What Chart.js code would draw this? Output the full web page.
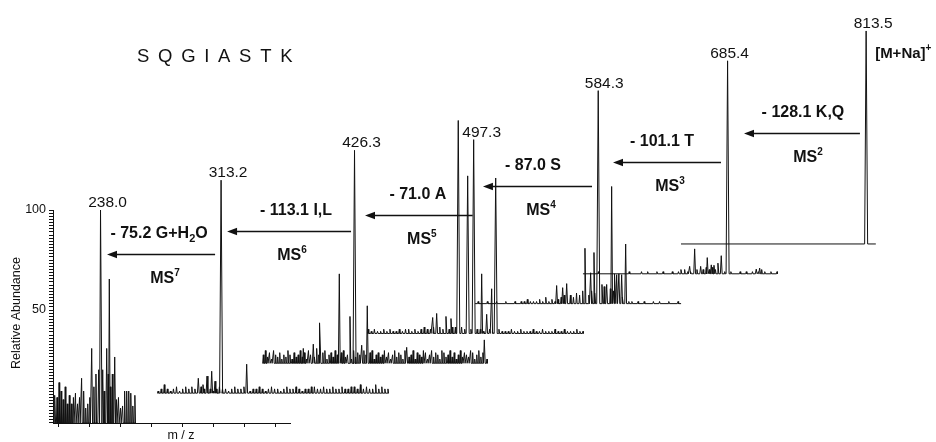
<!DOCTYPE html>
<html>
<head>
<meta charset="utf-8">
<script src="https://cdn.jsdelivr.net/npm/chart.js@4.4.1/dist/chart.umd.min.js"></script>
<style>
  html, body { margin: 0; padding: 0; background: #fff; }
  #wrap { width: 936px; height: 442px; }
</style>
</head>
<body>
<div id="wrap"><canvas id="msChart" width="936" height="442"></canvas></div>
<script>
// ===================================
// MSn ladder of SQGIASTK, one staggered spectrum per stage
// ===================================

const peptide = 'SQGIASTK';

// base peak of every spectrum, front (MS7) to back (full scan)
const basePeakMz = [238.0, 313.2, 426.3, 497.3, 584.3, 685.4, 813.5];
const basePeakPct = [100, 100, 100, 91, 100, 100, 100];
const scanRanges = [[104, 339], [128, 804], [158, 816], [187, 819], [222, 828], [260, 831], [269, 842]];

// fragmentation steps (product spectrum i comes from base peak i+1)
const msOrder = [7, 6, 5, 4, 3, 2];
const neutralLoss = ['- 75.2 G+H₂O', '- 113.1 I,L', '- 71.0 A', '- 87.0 S', '- 101.1 T', '- 128.1 K,Q'];
const yTickLabels = [50, 100];

// other peaks [m/z, %]
const peaksMS7 = [[212, 35], [232.6, 25], [244.4, 25], [256.2, 35], [263.8, 67.6], [279.7, 31]];
const peaksMS6 = [[246.2, 7], [260, 4], [271.8, 8], [285.6, 10.3], [295.3, 5.6], [388.5, 13.6]];
const peaksMS5 = [[275.6, 7], [305, 9], [324.7, 19], [381.5, 42], [412.9, 22], [447.4, 8.5], [463.8, 27], [579.7, 7.5], [808, 11]];
const peaksMS4 = [[376.8, 7.5], [388.5, 9.4], [415.9, 8], [430.6, 7], [452, 100], [479.7, 74], [520.9, 28], [535.6, 9], [550.3, 21], [562.1, 73]];
const peaksMS3 = [[462, 8.5], [479.7, 7.5], [491.5, 9.4], [545.3, 26], [562, 14.5], [571.8, 24], [595.3, 9], [609.1, 9], [623.8, 55], [633.5, 14], [638.5, 13.6], [645, 14], [653.2, 13.6], [665, 28]];
const peaksMS2 = [[548.2, 2], [573.8, 3.5], [588.5, 11.7], [606.2, 3.5], [625.6, 7.6], [637.4, 4.2], [645.3, 4], [657, 5], [666.8, 8.5], [769.7, 2.2], [779.7, 2.7]];
const peaksMS1 = [];

// baseline noise (%), evenly spread over each scan range
const noiseMS7 = [13,12,19,15,11,17,9,13,9,12,14,9,12,21,15,7,9,12,8,17,23,14,10,12,15,10,23,17,23,12,11,12,7,8,15,15,15,14,8,13];
const noiseMS6 = [1,2,4,2,1,2,3,1,2,3, 2,3,2,4,3,2,3,2,1,2, 3,2,2,1,2,3,2,2,3,2, 1,2,2,3,2,1,2,3,2,2, 1,2,3,2,2,3,2,1,2,2, 3,3,2,2,3,2,2,3,2,2, 3,2,2,3,3,2,4,2,3,2, 2,4,2,3,2,2];
const noiseMS5 = [4,6,3,5,2,6,4,3,5,2, 4,3,6,4,2,5,3,4,6,3, 5,2,6,4,5,3,7,4,3,5, 6,2,4,5,3,6,4,2,5,6, 3,4,5,2,6,3,5,4,2,6, 4,3,5,6,2,4,5,3,4,6, 3,5,2,4,6,3,5,4,2,6, 5,3,4,6,2,5,4,3,6,5, 2,4,6,3,5,4,2,6,5,3, 4,6,3,5,2,4,6,3,5,4, 3,6,5,2,4,6,3,5,4,2];
const noiseMS4 = [2,1,2,1,1,2,1,2,1,1, 2,1,2,2,1,2,1,2,3,2, 2,3,2,3,2,3,2,3,3,2, 3,2,3,2,3,2,2,1,1,2, 1,1,2,1,1,1,2,1,1,2, 1,1,1,2,1,1,2,1,1,1, 2,1,1,2,1,1,1,2,1,1];
const noiseMS3 = [0,1,0,0,1,0,0,1,0,0, 1,0,0,1,0,1,1,2,1,1, 1,2,1,3,1,2,1,2,3,4, 3,4,3,5,4,6,5,4,6,5, 7,6,8,6,7,6,5,6,3,2, 1,1,0,1,0,1,0,0,1,0, 1,0,0,1,0,0,1,0];
const noiseMS2 = [0,0,0,0,0,1,0,0,0,0, 0,0,0,0,0,1,0,0,0,1, 0,1,0,0,1,0,1,0,0,1, 0,1,1,2,1,1,3,2,1,2,3,2,3,2,4,3, 1,0,1,0,0,1,0,1,0,1, 2,1,2,1,0,1,0,1];
const noiseMS1 = [0, 0];

const levelPeaks = [peaksMS7, peaksMS6, peaksMS5, peaksMS4, peaksMS3, peaksMS2, peaksMS1];
const levelNoise = [noiseMS7, noiseMS6, noiseMS5, noiseMS4, noiseMS3, noiseMS2, noiseMS1];

// ---- layout ----
const FONT = "'Liberation Sans', Arial, Helvetica, sans-serif";
const MZ_SHIFT = 279.4;      // horizontal stagger per spectrum (m/z units)
const Y_BASE = -6.5;         // baseline of the front spectrum (axis units)
const Y_STEP = 14.92;        // vertical stagger per spectrum
const Y_PER_PCT = 1.065;     // axis units per % abundance
const X_MIN = 98.2, X_MAX = 795.3;
const X_TICK0 = 113, X_TICK_STEP = 91.2;

const labelDx = [7, 7, 7, 8, 6, 2, 7];
const arrowY = [78, 89.5, 97.5, 112, 124, 138.5];
const arrowGapL = [6.5, 6, 10.5, 9.3, 14.8, 16.4];
const arrowGapR = [6, 3.5, 1, 6.2, 6.6, 6.2];
const lossDx = [-2, 7, -1, -4.5, -5, 1];
const msDx = [4, 3, 3, 3.5, 3, 6];

function levelBase(level) {
    return Y_BASE + level * Y_STEP;
}

// Build one spectrum as a polyline of narrow spikes
function spectrumPoints(level) {
    const shift = level * MZ_SHIFT;
    const base = levelBase(level);
    const [lo, hi] = scanRanges[level];
    const noise = levelNoise[level];
    const peaks = levelPeaks[level].concat([[basePeakMz[level], basePeakPct[level]]]);
    const spikes = [];
    const step = (hi - lo) / (noise.length - 1);
    noise.forEach((h, i) => {
        const mz = lo + i * step;
        const near = peaks.some(p => Math.abs(p[0] - mz) < 2.5);
        if (!near && h > 0) spikes.push({ mz: mz, h: h, w: 1.8 });
    });
    peaks.forEach(p => spikes.push({ mz: p[0], h: p[1], w: p[1] >= 70 ? 4.4 : 2.6 }));
    spikes.sort((a, b) => a.mz - b.mz);

    const pts = [{ x: lo + shift, y: base }];
    spikes.forEach(s => {
        pts.push({ x: s.mz - s.w + shift, y: base });
        pts.push({ x: s.mz + shift, y: base + s.h * Y_PER_PCT });
        pts.push({ x: s.mz + s.w + shift, y: base });
    });
    pts.push({ x: hi + shift, y: base });
    return pts;
}

// Text with sub/superscripts: parts = [text, size, weight, dy]
function drawRich(ctx, parts, cx, baseline, align) {
    let total = 0;
    const widths = parts.map(p => {
        ctx.font = p[2] + ' ' + p[1] + 'px ' + FONT;
        const w = ctx.measureText(p[0]).width;
        total += w;
        return w;
    });
    let x = align === 'left' ? cx : cx - total / 2;
    parts.forEach((p, i) => {
        ctx.font = p[2] + ' ' + p[1] + 'px ' + FONT;
        ctx.fillText(p[0], x, baseline + p[3]);
        x += widths[i];
    });
}

function lossParts(text) {
    const parts = [];
    text.split(/(₂)/).forEach(seg => {
        if (!seg) return;
        if (seg === '₂') parts.push(['2', 11, 'bold', 4]);
        else parts.push([seg, 16, 'bold', 0]);
    });
    return parts;
}

const msAnnotations = {
    id: 'msAnnotations',
    afterDraw(chart) {
        const ctx = chart.ctx;
        const xs = chart.scales.x;
        const ys = chart.scales.y;
        const px = (mz, level) => xs.getPixelForValue(mz + level * MZ_SHIFT);
        const py = v => ys.getPixelForValue(v);

        ctx.save();
        ctx.fillStyle = '#111';
        ctx.strokeStyle = '#111';
        ctx.textBaseline = 'alphabetic';
        ctx.textAlign = 'left';

        // base peak m/z labels
        basePeakMz.forEach((mz, level) => {
            const x = px(mz, level) + labelDx[level];
            const top = py(levelBase(level) + basePeakPct[level] * Y_PER_PCT);
            drawRich(ctx, [[mz.toFixed(1), 15.5, 'normal', 0]], x, top - 3);
        });

        // precursor ion
        {
            const last = basePeakMz.length - 1;
            const x = px(basePeakMz[last], last) + 9;
            const top = py(levelBase(last) + 100 * Y_PER_PCT);
            drawRich(ctx, [['[M+Na]', 15, 'bold', 0], ['+', 10, 'bold', -7]], x, top + 27.5, 'left');
        }

        // fragmentation arrows
        msOrder.forEach((order, i) => {
            const xL = px(basePeakMz[i], i) + arrowGapL[i];
            const xR = px(basePeakMz[i + 1], i + 1) - arrowGapR[i];
            const y = Math.round(py(arrowY[i])) + 0.5;
            ctx.lineWidth = 1.5;
            ctx.beginPath();
            ctx.moveTo(xR, y);
            ctx.lineTo(xL + 8, y);
            ctx.stroke();
            ctx.beginPath();
            ctx.moveTo(xL, y);
            ctx.lineTo(xL + 10, y - 3.8);
            ctx.lineTo(xL + 10, y + 3.8);
            ctx.closePath();
            ctx.fill();

            const cx = (xL + xR) / 2;
            drawRich(ctx, lossParts(neutralLoss[i]), cx + lossDx[i], y - 22 + 5.7);
            drawRich(ctx, [['MS', 16, 'bold', 0], [String(order), 10, 'bold', -7]], cx + msDx[i], y + 23 + 5.7);
        });

        // peptide sequence
        ctx.font = 'normal 18.5px ' + FONT;
        let tx = 137;
        peptide.split('').forEach(ch => {
            ctx.fillText(ch, tx, 62);
            tx += ctx.measureText(ch).width + 8.7;
        });

        // axis titles
        ctx.font = 'normal 12.5px ' + FONT;
        ctx.textAlign = 'center';
        ctx.textBaseline = 'middle';
        ctx.fillText('m / z', 181, 436);
        ctx.translate(17, 313);
        ctx.rotate(-Math.PI / 2);
        ctx.fillText('Relative Abundance', 0, 0);
        ctx.restore();
    }
};

function buildDatasets() {
    return basePeakMz.map((mz, level) => ({
        label: 'MS stage ' + level,
        data: spectrumPoints(level),
        borderColor: '#111',
        borderWidth: 1,
        borderJoinStyle: 'bevel',
        pointRadius: 0,
        tension: 0,
        fill: false,
        clip: false
    }));
}

const ctx = document.getElementById('msChart').getContext('2d');
const msChart = new Chart(ctx, {
    type: 'line',
    data: { datasets: buildDatasets() },
    plugins: [msAnnotations],
    options: {
        responsive: false,
        animation: false,
        devicePixelRatio: 1,
        events: [],
        layout: { padding: { left: 0, top: 210, right: 646, bottom: 0 } },
        plugins: {
            legend: { display: false },
            tooltip: { enabled: false }
        },
        scales: {
            x: {
                type: 'linear',
                bounds: 'data',
                afterDataLimits: s => { s.min = X_MIN; s.max = X_MAX; },
                afterBuildTicks: s => {
                    const t = [];
                    for (let v = X_TICK0; v <= X_MAX; v += X_TICK_STEP) t.push({ value: v });
                    s.ticks = t;
                },
                afterFit: s => { s.height = 19; },
                grid: { drawOnChartArea: false, drawTicks: true, tickLength: 4, color: '#111', lineWidth: 1 },
                border: { display: true, color: '#111', width: 1 },
                ticks: { autoSkip: false, callback: () => '', padding: 0 }
            },
            y: {
                type: 'linear',
                min: -6.5,
                max: 100,
                afterBuildTicks: s => {
                    const t = [];
                    for (let v = 100; v >= -6.5; v -= 50 / 32) t.push({ value: v });
                    s.ticks = t;
                },
                afterFit: s => { s.width = 53; },
                grid: { drawOnChartArea: false, drawTicks: true, tickLength: 4, color: '#111', lineWidth: 1 },
                border: { display: true, color: '#111', width: 1 },
                ticks: {
                    autoSkip: false,
                    padding: 3,
                    color: '#111',
                    font: { family: FONT, size: 12.5 },
                    callback: v => yTickLabels.includes(v) ? String(v) : ''
                }
            }
        }
    }
});
</script>
</body>
</html>
